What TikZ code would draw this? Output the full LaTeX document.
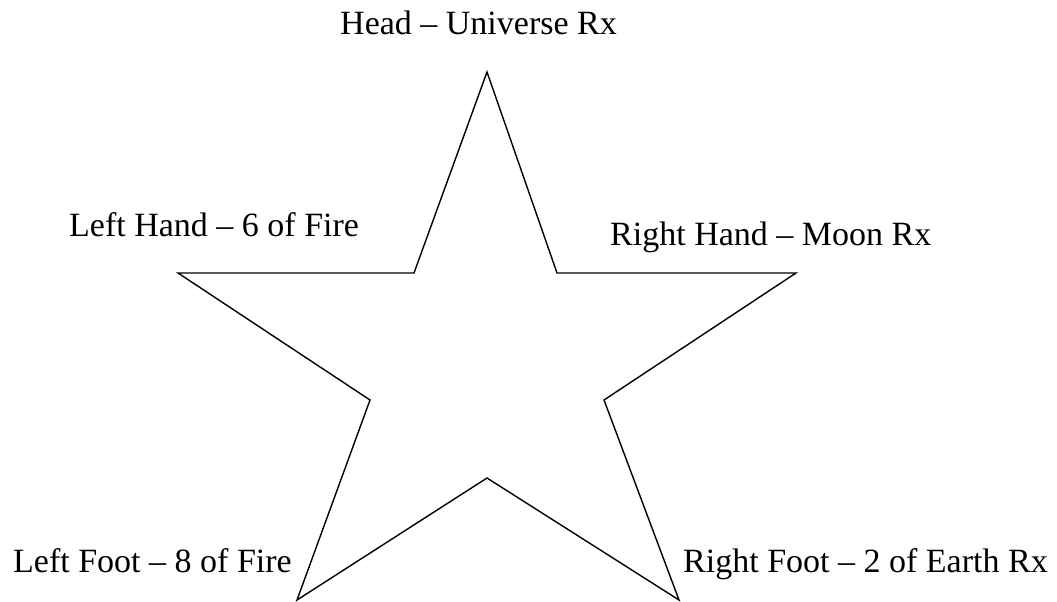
\documentclass[tikz,border=0pt]{standalone}
\usepackage{fontspec}
\setmainfont{Liberation Serif}
\tikzset{lbl/.style={anchor=base west, inner sep=0pt, font=\fontsize{34}{40}\selectfont},
  starline/.style={draw=black, line width=1.4pt, line join=miter}}
\begin{document}
\begin{tikzpicture}[x=1pt,y=-1pt]
\useasboundingbox (0,0) rectangle (1057,602);
\coordinate (t) at (487,72);
\coordinate (ul) at (414,273);
\coordinate (l) at (178,273);
\coordinate (ll) at (370,400);
\coordinate (bl) at (297,600);
\coordinate (b) at (487,478);
\coordinate (br) at (679,600);
\coordinate (lr) at (604,400);
\coordinate (r) at (796,273);
\coordinate (ur) at (557,273);
\draw[starline] (t) -- (ul) -- (l) -- (ll) -- (bl) -- (b) -- (br) -- (lr) -- (r) -- (ur) -- cycle;
\node[lbl] (head) at (340,35) {Head – Universe Rx};
\node[lbl] (lhand) at (69,236) {Left Hand – 6 of Fire};
\node[lbl] (rhand) at (610,245) {Right Hand – Moon Rx};
\node[lbl] (lfoot) at (13,572) {Left Foot – 8 of Fire};
\node[lbl] (rfoot) at (683,572) {Right Foot – 2 of Earth Rx};
\end{tikzpicture}
\end{document}
